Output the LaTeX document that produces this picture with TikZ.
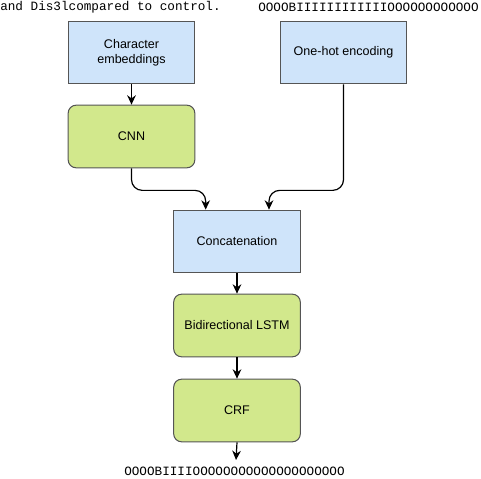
\documentclass[tikz,border=0pt]{standalone}
\usepackage{fontspec}
\setmainfont{Liberation Sans}
\setmonofont{Liberation Mono}
\usepackage{tikz}
\usepackage{xcolor}
\usetikzlibrary{arrows.meta}
\definecolor{boxblue}{RGB}{207,228,250}
\definecolor{boxgreen}{RGB}{210,232,140}
\definecolor{boxline}{RGB}{85,85,85}
\tikzset{%
  tipA/.tip={Stealth[length=7pt,width=6.5pt]},
  bluebox/.style={draw=boxline, fill=boxblue, line width=0.8pt, minimum width=95pt, minimum height=47pt, align=center, font=\fontsize{9.4}{11.5}\selectfont},
  greenbox/.style={bluebox, fill=boxgreen, rounded corners=6pt},
  seqtext/.style={font=\ttfamily\fontsize{9.5}{11}\selectfont, inner sep=0pt},
  link/.style={black, line width=0.9pt, -tipA}
}

\begin{document}
\begin{tikzpicture}[x=0.75pt,y=0.75pt]
\useasboundingbox (0,0) rectangle (481,478);
\node[seqtext, anchor=west] (intext) at (0,471) {and Dis3lcompared to control.};
\node[seqtext, anchor=west] (tagin) at (258,471) {OOOOBIIIIIIIIIIIIOOOOOOOOOOOO};
\node[bluebox] (emb) at (131.5,425.5) {Character\\embeddings};
\node[bluebox] (onehot) at (343.5,425.5) {One-hot encoding};
\node[greenbox] (cnn) at (131.5,341.5) {CNN};
\node[bluebox] (concat) at (237,236.5) {Concatenation};
\node[greenbox] (lstm) at (237,152.5) {Bidirectional LSTM};
\node[greenbox] (crf) at (237,67.5) {CRF};
\node[seqtext] (tagout) at (234.5,7) {OOOOBIIIIOOOOOOOOOOOOOOOOOOOO};
\coordinate (outend) at (236,18);
\draw[link] (emb) -- (cnn);
\draw[link, rounded corners=8pt] (cnn.south) -- ++(0,-22) -| ([xshift=-23.5pt]concat.north);
\draw[link, rounded corners=8pt] (onehot.south) -- ++(0,-106) -| ([xshift=24pt]concat.north);
\draw[link] (concat) -- (lstm);
\draw[link] (lstm) -- (crf);
\draw[link] (crf.south) -- (outend);
\end{tikzpicture}
\end{document}
